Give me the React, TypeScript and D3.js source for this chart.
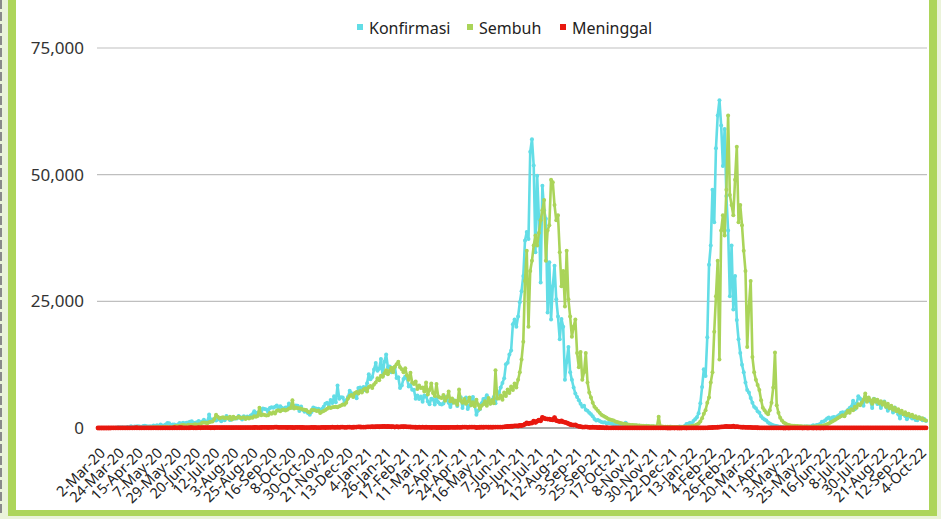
import React from 'react';
import * as d3 from 'd3';

// daily series sampled every 2 days from 2-Mar-20; one row = one 22-day label step
const SAMPLE_DAYS = 2;
const LABEL_STEP_DAYS = 22;

const KONFIRMASI = [
  2, 0, 2, 2, 13, 7, 27, 17, 55, 60, 64,
  107, 153, 109, 130, 114, 113, 181, 106, 337, 218, 316,
  297, 325, 283, 185, 375, 436, 347, 275, 347, 292, 484,
  338, 533, 387, 689, 490, 486, 693, 973, 949, 415, 686,
  678, 467, 684, 993, 847, 1043, 864, 1017, 1106, 1226, 1331,
  1041, 1051, 1113, 1385, 1082, 1293, 1607, 1209, 1268, 2657, 1611,
  1681, 1591, 1489, 1693, 1752, 1331, 1882, 1525, 2381, 1904, 1560,
  1679, 1815, 1942, 1893, 2345, 2098, 1679, 2307, 2081, 2266, 2006,
  2447, 2719, 3308, 2858, 3075, 2743, 3269, 3861, 3737, 3636, 3141,
  3963, 4106, 3989, 4176, 4465, 3874, 4284, 4002, 3622, 4056, 4007,
  4850, 4294, 4007, 4313, 4432, 4369, 3373, 4267, 3602, 3222, 3520,
  2897, 2618, 3143, 4065, 3880, 3779, 3807, 3535, 3770, 4173, 4798,
  4998, 4360, 5534, 4917, 6267, 5092, 8369, 5754, 6058, 6033, 5000,
  5489, 6120, 7354, 6848, 6725, 6347, 5854, 7903, 8002, 7203, 8072,
  7445, 8854, 10617, 9640, 10046, 11557, 12818, 11287, 11703, 13632, 10227,
  13094, 14518, 12001, 12156, 10995, 11749, 12044, 9869, 10030, 7906, 8400,
  9687, 10180, 9775, 8184, 8493, 7534, 7535, 5776, 6412, 5720, 6200,
  5200, 6396, 6241, 5252, 4697, 5776, 5692, 4632, 5912, 5095, 4745,
  4627, 4860, 6096, 5633, 4963, 4127, 5021, 5500, 5041, 4355, 6243,
  6078, 3945, 5241, 6000, 3760, 4369, 5285, 6130, 4608, 2633, 3448,
  3680, 4871, 5746, 5797, 6486, 5297, 4824, 5592, 6130, 4893, 6594,
  7000, 8000, 8900, 9800, 12600, 12900, 14500, 15300, 20500, 21400, 20000,
  22000, 24800, 27000, 30000, 37000, 38700, 37300, 54500, 57000, 51800, 34700,
  49800, 41300, 28700, 47800, 43000, 41300, 22800, 32700, 21400, 28000, 32000,
  25400, 22000, 17500, 21500, 20000, 9500, 13000, 16000, 11000, 9500, 8000,
  6800, 6100, 5500, 4800, 4200, 4400, 3600, 3400, 3000, 2700, 2300,
  1800, 1500, 1600, 1400, 1200, 1100, 1150, 900, 1000, 950, 850,
  747, 623, 914, 633, 760, 569, 612, 1022, 702, 488, 420,
  480, 439, 470, 389, 456, 407, 369, 329, 453, 400, 240,
  297, 273, 248, 197, 320, 260, 189, 209, 180, 191, 179,
  254, 180, 204, 198, 213, 274, 265, 174, 404, 802, 823,
  1054, 855, 1362, 1745, 2116, 2925, 4878, 8077, 11588, 10250, 17895,
  32200, 36000, 47000, 40600, 55200, 61700, 64700, 59700, 51700, 59000, 45800,
  39000, 26000, 36000, 23400, 30000, 21300, 17500, 14800, 12500, 11000, 9000,
  7500, 7000, 5900, 5000, 4200, 3900, 3300, 3000, 2300, 1900, 1700,
  1500, 1100, 900, 700, 550, 450, 380, 300, 250, 180, 150,
  119, 99, 184, 258, 345, 236, 287, 259, 269, 315, 227,
  297, 274, 279, 305, 348, 553, 432, 574, 627, 791, 1242,
  1264, 1553, 1894, 2069, 1614, 2052, 2167, 2069, 2326, 2577, 2990,
  3090, 2401, 3262, 3553, 3940, 4193, 5402, 3718, 4813, 6276, 5827,
  5087, 4400, 6167, 5360, 5498, 5214, 3935, 5778, 5584, 4713, 5011,
  3957, 4925, 5227, 4143, 3395, 4071, 3891, 3042, 4028, 3551, 2728,
  1898, 2930, 2716, 2365, 1725, 2258, 2234, 1856, 2046, 1568, 1520,
  2091, 1906, 1544, 1789, 1400,
];

const SEMBUH = [
  0, 0, 0, 0, 2, 0, 3, 6, 2, 5, 9,
  2, 4, 12, 13, 18, 18, 15, 16, 20, 28, 30,
  55, 81, 39, 65, 57, 68, 89, 65, 95, 110, 138,
  122, 155, 169, 157, 213, 184, 228, 191, 194, 164, 213,
  273, 416, 359, 413, 529, 586, 545, 461, 627, 616, 597,
  660, 760, 643, 686, 723, 1027, 1072, 1014, 917, 1114, 1247,
  1306, 1800, 2600, 2237, 1900, 2043, 2125, 1944, 2068, 1862, 2212,
  1698, 2216, 1880, 2019, 2226, 1955, 2044, 2111, 1781, 2089, 1898,
  2096, 2011, 2313, 2203, 2391, 4000, 2528, 2650, 2576, 2476, 2512,
  2970, 2807, 3113, 2879, 3416, 3506, 3321, 3558, 3658, 3456, 3620,
  3860, 3936, 5500, 3834, 4046, 3922, 3894, 3785, 3652, 3598, 3488,
  3206, 3069, 3544, 3539, 3492, 3373, 3431, 2945, 3210, 3367, 3566,
  3811, 4028, 3949, 4094, 4127, 4210, 4106, 4276, 4431, 4618, 4587,
  5000, 5800, 6300, 6500, 6100, 6900, 7100, 6800, 7300, 7000, 7600,
  7800, 7200, 8100, 8300, 7900, 8600, 9000, 9800, 9400, 10300, 10100,
  10800, 11400, 10600, 11300, 11900, 11000, 12100, 12600, 13100, 12000, 11600,
  11000, 11800, 10400, 9500, 10900, 9000, 8700, 9200, 7700, 8400, 7900,
  8000, 7200, 9000, 6600, 7500, 8800, 6900, 6300, 8700, 6200, 6000,
  5900, 6500, 5400, 6000, 7200, 5300, 5800, 5000, 5400, 4600, 7600,
  5400, 5000, 5700, 4800, 5200, 6000, 4500, 5100, 4300, 5600, 4600,
  3800, 4400, 4700, 5300, 4400, 5900, 4800, 5500, 4900, 11400, 5800,
  5800, 6400, 5600, 7000, 6300, 7600, 6900, 8200, 7500, 8800, 8000,
  9500, 11000, 13500, 17000, 29000, 35000, 20000, 31000, 33000, 36000, 38000,
  36000, 38500, 41000, 43000, 45000, 33000, 39000, 40000, 49000, 48500, 44000,
  41000, 42000, 34700, 28000, 31000, 24000, 35000, 25400, 22000, 18000, 20000,
  21400, 14800, 12000, 15000, 9500, 11000, 14800, 9000, 7000, 6000, 5000,
  4200, 3800, 3400, 3000, 2600, 2400, 2200, 2000, 1800, 1700, 1600,
  1500, 1300, 1200, 1100, 1000, 900, 850, 800, 700, 650, 600,
  580, 560, 520, 500, 470, 450, 430, 410, 400, 380, 360,
  340, 330, 320, 310, 2200, 290, 280, 270, 260, 250, 240,
  230, 220, 210, 200, 190, 200, 210, 230, 250, 270, 300,
  320, 380, 450, 550, 700, 900, 1300, 1900, 2800, 3500, 5000,
  6000, 9000, 11000, 19000, 26000, 33000, 13500, 39000, 42000, 38000, 47000,
  61700, 46000, 44000, 42000, 49000, 55500, 40600, 44000, 40000, 35000, 31000,
  16000, 24000, 29000, 14000, 11000, 9500, 8500, 7500, 5500, 4000, 3500,
  3000, 2700, 3500, 5000, 8000, 14900, 4500, 3000, 2000, 1500, 1100,
  900, 700, 600, 500, 450, 420, 400, 380, 360, 340, 320,
  300, 290, 280, 270, 260, 280, 300, 320, 350, 400, 450,
  500, 600, 750, 900, 1100, 1300, 1500, 1700, 1900, 2100, 2300,
  2500, 2300, 2900, 3400, 3000, 3700, 3500, 4200, 4000, 4700, 4500,
  5000, 5600, 6800, 5200, 6000, 5500, 4800, 5700, 5200, 5600, 4900,
  5300, 4600, 5100, 4200, 4800, 3900, 4400, 3600, 4000, 3300, 3700,
  3000, 3400, 2700, 3100, 2500, 2800, 2300, 2600, 2100, 2300, 1900,
  2100, 1800, 1900, 1600, 1500,
];

const MENINGGAL = [
  0, 0, 0, 0, 0, 1, 4, 1, 12, 7, 10,
  12, 9, 13, 15, 12, 11, 17, 19, 40, 21, 26,
  47, 27, 24, 23, 26, 20, 37, 18, 8, 12, 31,
  35, 14, 20, 13, 16, 37, 24, 36, 21, 28, 23,
  49, 40, 31, 50, 49, 34, 44, 36, 35, 45, 64,
  34, 43, 43, 61, 41, 56, 66, 82, 58, 66, 52,
  71, 50, 76, 87, 80, 65, 89, 66, 57, 68, 73,
  67, 66, 81, 79, 74, 66, 79, 86, 82, 92, 87,
  87, 88, 100, 118, 79, 88, 97, 107, 123, 112, 103,
  121, 134, 137, 160, 160, 113, 116, 128, 118, 125, 96,
  110, 106, 95, 82, 117, 128, 107, 102, 94, 93, 87,
  92, 89, 115, 94, 110, 83, 76, 85, 104, 110, 101,
  105, 109, 130, 169, 133, 105, 156, 110, 171, 180, 130,
  124, 157, 177, 136, 152, 170, 180, 225, 197, 165, 188,
  162, 240, 224, 212, 245, 221, 246, 277, 249, 253, 292,
  335, 262, 294, 267, 246, 274, 191, 257, 198, 210, 280,
  250, 264, 227, 214, 198, 167, 153, 149, 143, 157, 137,
  155, 125, 150, 137, 132, 103, 115, 142, 97, 96, 103,
  100, 106, 96, 108, 99, 134, 135, 112, 121, 145, 141,
  109, 160, 174, 172, 141, 178, 154, 178, 163, 94, 118,
  148, 157, 147, 161, 191, 144, 189, 149, 162, 185, 180,
  181, 187, 191, 223, 256, 295, 312, 344, 349, 409, 416,
  390, 504, 493, 558, 747, 991, 844, 962, 982, 1338, 1093,
  1338, 1566, 1415, 2069, 1893, 1808, 1757, 1747, 1635, 1588, 2048,
  1466, 1359, 1270, 1384, 1206, 1128, 1030, 854, 694, 636, 574,
  626, 426, 335, 273, 186, 180, 221, 177, 141, 115, 166,
  106, 129, 74, 98, 57, 60, 43, 52, 40, 39, 39,
  33, 28, 28, 24, 28, 17, 21, 17, 14, 11, 15,
  12, 14, 10, 9, 8, 10, 7, 8, 7, 6, 8,
  7, 6, 9, 5, 6, 5, 8, 7, 6, 4, 3,
  4, 6, 3, 5, 4, 3, 2, 5, 6, 4, 5,
  6, 5, 7, 9, 11, 10, 14, 16, 20, 32, 44,
  57, 74, 100, 111, 133, 146, 167, 206, 227, 257, 325,
  259, 268, 253, 353, 230, 258, 226, 189, 152, 170, 129,
  116, 117, 105, 70, 78, 57, 54, 38, 40, 29, 35,
  24, 24, 18, 19, 21, 15, 10, 12, 8, 5, 4,
  4, 5, 4, 5, 9, 7, 8, 6, 5, 6, 4,
  5, 6, 3, 6, 5, 4, 5, 4, 6, 3, 5,
  4, 6, 7, 5, 8, 9, 7, 6, 8, 9, 10,
  7, 9, 10, 11, 14, 12, 15, 17, 18, 20, 21,
  18, 22, 24, 20, 17, 23, 21, 26, 19, 24, 22,
  20, 21, 19, 23, 25, 22, 24, 20, 18, 21, 19,
  17, 20, 16, 15, 18, 19, 21, 14, 17, 13, 15,
  16, 14, 17, 12, 11,
];

const TICK_LABELS = [
  '2-Mar-20', '24-Mar-20', '15-Apr-20', '7-May-20', '29-May-20', '20-Jun-20', '12-Jul-20',
  '3-Aug-20', '25-Aug-20', '16-Sep-20', '8-Oct-20', '30-Oct-20', '21-Nov-20', '13-Dec-20',
  '4-Jan-21', '26-Jan-21', '17-Feb-21', '11-Mar-21', '2-Apr-21', '24-Apr-21', '16-May-21',
  '7-Jun-21', '29-Jun-21', '21-Jul-21', '12-Aug-21', '3-Sep-21', '25-Sep-21', '17-Oct-21',
  '8-Nov-21', '30-Nov-21', '22-Dec-21', '13-Jan-22', '4-Feb-22', '26-Feb-22', '20-Mar-22',
  '11-Apr-22', '3-May-22', '25-May-22', '16-Jun-22', '8-Jul-22', '30-Jul-22', '21-Aug-22',
  '12-Sep-22', '4-Oct-22',
];

const Y_TICKS = [0, 25000, 50000, 75000];

const SERIES = [
  { name: 'Konfirmasi', values: KONFIRMASI, color: '#62DDE6', width: 2.6, r: 2 },
  { name: 'Sembuh', values: SEMBUH, color: '#AAD459', width: 2.6, r: 2 },
  { name: 'Meninggal', values: MENINGGAL, color: '#E8180F', width: 3.8, r: 2.4 },
];

const W = 941;
const H = 519;
const FONT = '"Noto Sans", "Open Sans", sans-serif';

export default function App() {
  const n = KONFIRMASI.length;
  const x = d3.scaleLinear().domain([0, (n - 1) * SAMPLE_DAYS]).range([98, 926]);
  const y = d3.scaleLinear().domain([0, 75000]).range([428, 48]);
  const fmt = d3.format(',');

  const line = d3.line<number>()
    .x((_, i) => x(i * SAMPLE_DAYS))
    .y(d => y(d));

  return (
    <svg width={W} height={H} style={{ position: 'absolute', left: 0, top: 0, fontFamily: FONT }}>
      {/* outer frame */}
      <rect x={0} y={0} width={W} height={H} fill="#ffffff" />
      <rect x={0} y={0} width={8} height={H} fill="#EAF3D9" />
      <line x1={1} y1={0} x2={1} y2={H} stroke="#8a8a8a" strokeWidth={2} strokeDasharray="9 3" />
      <rect x={937} y={0} width={4} height={H} fill="#EAF3D9" />
      <rect x={0} y={515} width={W} height={4} fill="#EAF3D9" />
      <rect x={8} y={0} width={8} height={516} fill="#ADD55A" />
      <rect x={929} y={0} width={8} height={516} fill="#ADD55A" />
      <rect x={8} y={510} width={929} height={6} fill="#ADD55A" />

      {/* grid */}
      {Y_TICKS.map(t => (
        <g key={t}>
          {t > 0 && <line x1={97} x2={927} y1={y(t)} y2={y(t)} stroke="#BFBFBF" strokeWidth={1.2} />}
          <text x={84} y={y(t)} dy="0.35em" textAnchor="end" fontSize={17} fill="#333">{fmt(t)}</text>
        </g>
      ))}
      <line x1={97} x2={927} y1={y(0)} y2={y(0)} stroke="#595959" strokeWidth={1.2} />

      {/* series */}
      {SERIES.map(s => (
        <g key={s.name}>
          <path d={line(s.values) || ''} fill="none" stroke={s.color} strokeWidth={s.width} strokeLinejoin="round" />
          {s.values.map((v, i) => (
            <circle key={i} cx={x(i * SAMPLE_DAYS)} cy={y(v)} r={s.r} fill={s.color} />
          ))}
        </g>
      ))}

      {/* x labels */}
      {TICK_LABELS.map((lab, k) => {
        const tx = x(k * LABEL_STEP_DAYS) + 8;
        return (
          <text key={lab} transform={`translate(${tx},454) rotate(-45)`} textAnchor="end"
            fontSize={14.5} fill="#222">{lab}</text>
        );
      })}

      {/* legend */}
      {SERIES.map((s, i) => {
        const lx = [357, 467, 560][i];
        return (
          <g key={s.name}>
            <rect x={lx} y={24} width={6} height={6} fill={s.color} />
            <text x={lx + 12} y={28} dy="0.35em" fontSize={16} fill="#222">{s.name}</text>
          </g>
        );
      })}
    </svg>
  );
}
